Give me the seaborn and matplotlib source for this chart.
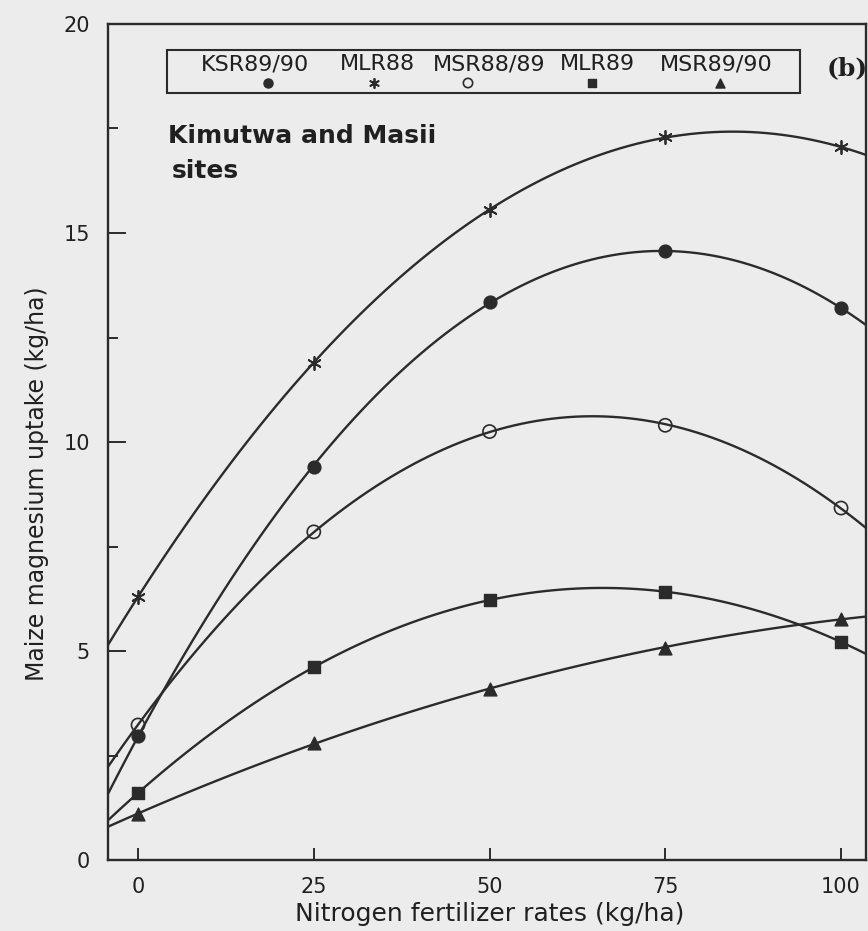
import numpy as np
import pandas as pd
import matplotlib
matplotlib.use("Agg")
import matplotlib.pyplot as plt
from matplotlib.patches import Rectangle
import seaborn as sns

# Nitrogen rates (kg/ha) and maize Mg uptake (kg/ha) per site/season
n_rates = [0, 25, 50, 75, 100]
ksr89_90 = [2.97, 9.40, 13.35, 14.57, 13.20]
mlr88 = [6.30, 11.90, 15.55, 17.30, 17.05]
msr88_89 = [3.23, 7.85, 10.25, 10.40, 8.42]
mlr89 = [1.60, 4.62, 6.22, 6.41, 5.22]
msr89_90 = [1.10, 2.80, 4.10, 5.07, 5.77]

series_names = ["KSR89/90", "MLR88", "MSR88/89", "MLR89", "MSR89/90"]
series_values = [ksr89_90, mlr88, msr88_89, mlr89, msr89_90]

x_ticks = [0, 25, 50, 75, 100]
y_ticks = [0, 5, 10, 15, 20]
y_minor = [2.5, 7.5, 12.5, 17.5]

df = pd.DataFrame(
    [(name, x, y) for name, vals in zip(series_names, series_values)
     for x, y in zip(n_rates, vals)],
    columns=["series", "N", "Mg"],
)

INK = "#2b2b2b"
TXT = "#202020"
BG = "#ececec"

sns.set_theme(style="white")
plt.rcParams["font.family"] = ["DejaVu Sans"]

marker_styles = {
    "KSR89/90": dict(marker="o", s=85, facecolors=INK, edgecolors=INK, linewidths=1.0),
    "MLR88": dict(marker=(6, 2, 0), s=90, facecolors=INK, edgecolors=INK, linewidths=1.3),
    "MSR88/89": dict(marker="o", s=90, facecolors="none", edgecolors=INK, linewidths=1.2),
    "MLR89": dict(marker="s", s=65, facecolors=INK, edgecolors=INK, linewidths=1.0),
    "MSR89/90": dict(marker="^", s=85, facecolors=INK, edgecolors=INK, linewidths=1.0),
}

fig = plt.figure(figsize=(8.68, 9.31), dpi=100, facecolor=BG)
ax = fig.add_axes([108 / 868, 1 - 860 / 931, 758 / 868, 836 / 931])
ax.set_facecolor(BG)
ax.set_xlim(-4.27, 103.55)
ax.set_ylim(0, 20)

# Points plus a quadratic response curve for each site/season
for name in series_names:
    sub = df[df["series"] == name]
    st = dict(marker_styles[name])
    mk = st.pop("marker")
    sns.regplot(
        data=sub, x="N", y="Mg", ax=ax, order=2, ci=None, truncate=False,
        marker=mk, scatter_kws=dict(zorder=4, alpha=1, **st),
        line_kws=dict(color=INK, lw=1.7, zorder=3),
    )

for sp in ax.spines.values():
    sp.set_color(INK)
    sp.set_linewidth(1.7)
    sp.set_visible(True)

ax.set_xticks(x_ticks)
ax.set_yticks(y_ticks)
ax.set_yticks(y_minor, minor=True)
ax.tick_params(axis="both", which="major", direction="in", colors=INK,
               labelsize=15, labelcolor=TXT, bottom=True, left=True)
ax.tick_params(axis="y", which="major", length=13, width=1.4, pad=13)
ax.tick_params(axis="y", which="minor", direction="in", length=7, width=1.4,
               left=True, colors=INK)
ax.tick_params(axis="x", which="major", length=9, width=1.4, pad=12)

ax.set_xlabel("Nitrogen fertilizer rates (kg/ha)", fontsize=18, color=TXT)
ax.set_ylabel("Maize magnesium uptake (kg/ha)", fontsize=17, color=TXT)
ax.xaxis.set_label_coords(0.503, (860 - 921) / 836)
ax.xaxis.label.set_va("baseline")
ax.yaxis.set_label_coords((49 - 108) / 758, 0.450)

# Legend box: names on the top row, symbols underneath
lx0, lx1 = (167 - 108) / 758, (800 - 108) / 758
ly1, ly0 = (860 - 50) / 836, (860 - 93) / 836
ax.add_patch(Rectangle((lx0, ly0), lx1 - lx0, ly1 - ly0, transform=ax.transAxes,
                       fill=False, edgecolor=INK, lw=1.5, zorder=5))
label_x = [255, 377, 489, 597, 716]
key_x = [268, 374, 468, 592, 720]
for name, px, kx in zip(series_names, label_x, key_x):
    ax.text((px - 108) / 758, (860 - 64) / 836, name, transform=ax.transAxes,
            ha="center", va="center", fontsize=16, color=TXT, zorder=6)
    st = dict(marker_styles[name])
    mk = st.pop("marker")
    st["s"] = st["s"] * 0.5
    ax.scatter([(kx - 108) / 758], [(860 - 83) / 836], marker=mk,
               transform=ax.transAxes, zorder=6, clip_on=False, **st)

ax.text((847 - 108) / 758, (860 - 68) / 836, "(b)", transform=ax.transAxes,
        ha="center", va="center", fontsize=18, fontweight="bold",
        family="DejaVu Serif", color=TXT)

ax.text((168 - 108) / 758, (860 - 143) / 836, "Kimutwa and Masii",
        transform=ax.transAxes, ha="left", va="baseline", fontsize=18,
        fontweight="bold", color=TXT)
ax.text((172 - 108) / 758, (860 - 178) / 836, "sites",
        transform=ax.transAxes, ha="left", va="baseline", fontsize=18,
        fontweight="bold", color=TXT)

fig.savefig("out.png", dpi=100, facecolor=BG)
